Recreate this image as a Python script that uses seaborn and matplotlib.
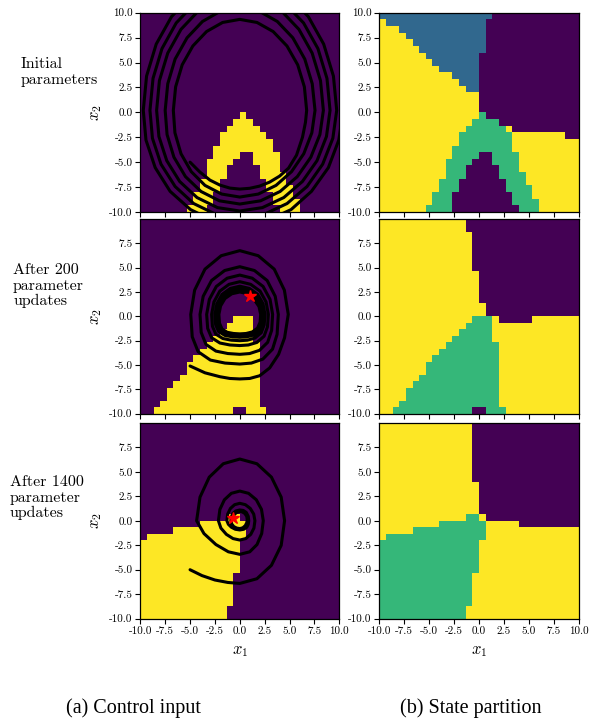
import re
import numpy as np
import matplotlib
matplotlib.use("Agg")
import matplotlib.pyplot as plt
import seaborn as sns
from matplotlib.colors import ListedColormap, BoundaryNorm

# ---------------- data: cell classes on a 30x30 grid (row 0 = top, x2=10) ----------------
# run-length encoded rows: P=purple, B=blue, G=green, Y=yellow
ctrl_initial = ["P30"] * 15 + [
    "P15Y1P14", "P14Y3P13", "P13Y5P12", "P12Y7P11", "P12Y8P10",
    "P11Y9P10", "P11Y4P2Y4P9", "P10Y4P3Y4P9", "P10Y3P5Y3P9", "P10Y3P5Y4P8",
    "P9Y3P7Y3P8", "P9Y3P7Y4P7", "P8Y3P9Y3P7", "P8Y3P9Y4P6", "P7Y3P11Y3P6"]
part_initial = [
    "B17P13", "Y1B15P14", "Y3B13P14", "Y4B12P14", "Y5B11P14",
    "Y6B10P14", "Y7B8P15", "Y8B7P15", "Y9B6P15", "Y11B4P15",
    "Y12B3P15", "Y13B2P15", "Y15P15", "Y15P15", "Y15P15",
    "Y15G1P14", "Y14G4P12", "Y13G6Y1P10", "Y12G8Y8P2", "Y12G8Y10",
    "Y11G9Y10", "Y11G4P2G4Y9", "Y10G4P3G4Y9", "Y10G3P5G3Y9", "Y10G3P5G4Y8",
    "Y9G3P7G3Y8", "Y9G3P7G4Y7", "Y8G3P9G3Y7", "Y8G3P9G4Y6", "Y7G4P10G3Y6"]
ctrl_200 = ["P30"] * 15 + [
    "P14Y3P13", "P13Y4P13", "P12Y5P13", "P11Y6P13", "P10Y8P12",
    "P9Y9P12", "P8Y10P12", "P7Y11P12", "P7Y11P12", "P6Y12P12",
    "P5Y13P12", "P4Y14P12", "P4Y14P12", "P3Y15P12", "P2Y12P2Y3P11"]
part_200 = ["Y13P17"] * 2 + ["Y14P16"] * 6 + ["Y15P15"] * 5 + ["Y16P14"] * 2 + [
    "Y14G3Y1P5Y7", "Y13G4Y13", "Y12G5Y13", "Y11G6Y13", "Y10G8Y12",
    "Y9G9Y12", "Y8G10Y12", "Y7G11Y12", "Y7G11Y12", "Y6G12Y12",
    "Y5G13Y12", "Y4G14Y12", "Y4G14Y12", "Y3G15Y12", "Y2G12P2G3Y11"]
ctrl_1400 = ["P30"] * 14 + [
    "P13Y2P15", "P9Y7P14", "P5Y11P14", "P1Y15P14"] + ["Y15P15"] * 5 + \
    ["Y14P16"] * 5 + ["Y13P17"] * 2
part_1400 = ["Y14P16"] * 9 + ["Y15P15"] * 5 + [
    "Y13G2Y1P14", "Y9G7Y5P9", "Y5G11Y14", "Y1G15Y14"] + ["G15Y15"] * 5 + \
    ["G14Y16"] * 5 + ["G13Y17"] * 2

# ---------------- data: closed-loop trajectories (x1, x2) ----------------
traj_initial_x = [
    -5.0, -4.0, -3.0, -2.0, -1.0, 0.0, 1.0, 2.0, 3.0, 4.0, 4.9, 5.7, 6.3, 6.6,
    6.72, 6.49, 5.82, 4.74, 3.35, 1.73, 0.0, -1.73, -3.34, -4.72, -5.79, -6.45, -6.68,
    -6.52, -5.91, -4.88, -3.5, -1.82, 0.0, 1.86, 3.64, 5.2, 6.43, 7.24, 7.56,
    7.28, 6.53, 5.33, 3.77, 1.95, 0.0, -1.95, -3.75, -5.3, -6.5, -7.24, -7.5,
    -7.31, -6.62, -5.46, -3.9, -2.04, 0.0, 2.08, 4.05, 5.78, 7.14, 8.05, 8.4,
    8.11, 7.27, 5.94, 4.2, 2.17, 0.0, -2.16, -4.18, -5.91, -7.24, -8.08, -8.36,
    -8.13, -7.34, -6.04, -4.3, -2.24, 0.0, 2.27, 4.42, 6.29, 7.76, 8.71, 9.07,
    8.76, 7.85, 6.41, 4.53, 2.34, 0.0, -2.34, -4.52, -6.39, -7.82, -8.72, -9.03,
    -8.78, -7.92, -6.5, -4.64, -2.41, 0.0, 2.45, 4.75, 6.76, 8.33, 9.35, 9.74,
    9.41, 8.43, 6.89, 4.87, 2.52, 0.0, -2.51, -4.85, -6.86, -8.4, -9.37, -9.7,
    -9.43, -8.5, -7.0, -4.95, -2.6, 0.0, 2.65, 5.15, 7.2, 8.9, 9.95, 10.4]
traj_initial_y = [
    -5.0, -6.0, -6.8, -7.3, -7.6, -7.7, -7.62, -7.4, -7.0, -6.4, -5.6, -4.3, -2.5, -1.0,
    0.2, 2.56, 4.77, 6.66, 8.11, 9.02, 9.33, 9.02, 8.11, 6.66, 4.77, 2.56, 0.2,
    -2.05, -4.15, -5.95, -7.33, -8.2, -8.5, -8.2, -7.33, -5.95, -4.15, -2.05, 0.2,
    2.87, 5.35, 7.48, 9.12, 10.15, 10.5, 10.15, 9.12, 7.48, 5.35, 2.87, 0.2,
    -2.23, -4.5, -6.45, -7.94, -8.88, -9.2, -8.88, -7.94, -6.45, -4.5, -2.23, 0.2,
    3.18, 5.95, 8.33, 10.16, 11.31, 11.7, 11.31, 10.16, 8.33, 5.95, 3.18, 0.2,
    -2.42, -4.85, -6.94, -8.55, -9.56, -9.9, -9.56, -8.55, -6.94, -4.85, -2.42, 0.2,
    3.41, 6.4, 8.97, 10.94, 12.18, 12.6, 12.18, 10.94, 8.97, 6.4, 3.41, 0.2,
    -2.6, -5.2, -7.44, -9.15, -10.23, -10.6, -10.23, -9.15, -7.44, -5.2, -2.6, 0.2,
    3.64, 6.85, 9.6, 11.72, 13.05, 13.5, 13.05, 11.72, 9.6, 6.85, 3.64, 0.2,
    -2.78, -5.55, -7.93, -9.76, -10.9, -11.3, -10.9, -9.76, -7.93, -5.55, -2.78, 0.2]

traj_200_x = [
    -5.0, -3.5, -2.0, -1.0, 0.0, 1.0, 2.0, 3.0, 3.9, 4.5, 4.87,
    4.48, 3.46, 1.85, 0.0, -1.87, -3.5, -4.54, -4.93,
    -4.78, -4.19, -2.96, -1.48, 0.0, 1.16, 2.32, 3.29, 3.75, 3.87,
    3.56, 2.75, 1.47, 0.0, -1.52, -2.84, -3.68, -4.0,
    -3.88, -3.4, -2.4, -1.2, 0.0, 0.99, 1.98, 2.8, 3.2, 3.3,
    3.04, 2.34, 1.25, 0.0, -1.27, -2.36, -3.06, -3.33,
    -3.23, -2.83, -2.0, -1.0, 0.0, 0.86, 1.72, 2.44, 2.78, 2.87,
    2.64, 2.04, 1.09, 0.0, -1.08, -2.01, -2.6, -2.83,
    -2.75, -2.41, -1.7, -0.85, 0.0, 0.76, 1.52, 2.15, 2.45, 2.53,
    2.33, 1.8, 0.96, 0.0, -0.95, -1.78, -2.3, -2.5,
    -2.43, -2.13, -1.5, -0.75, 0.0, 0.71, 1.42, 2.01, 2.3, 2.37,
    2.18, 1.68, 0.9, 0.0, -0.86, -1.6, -2.08, -2.26,
    -2.19, -1.92, -1.36, -0.68, 0.0, 0.66, 1.32, 1.87, 2.13, 2.2,
    2.02, 1.56, 0.84, 0.0, -0.8, -1.49, -1.93, -2.1,
    -2.04, -1.79, -1.26, -0.63, 0.0, 0.63, 1.26, 1.79, 2.04, 2.1,
    1.93, 1.5, 1.0]
traj_200_y = [
    -5.1, -5.8, -6.2, -6.38, -6.43, -6.38, -6.1, -5.3, -3.9, -2.2, 0.2,
    2.69, 4.85, 6.23, 6.75, 6.23, 4.85, 2.69, 0.2,
    -2.1, -3.63, -4.49, -4.8, -4.9, -4.8, -4.39, -3.37, -1.84, 0.2,
    2.06, 3.68, 4.71, 5.1, 4.71, 3.68, 2.06, 0.2,
    -1.65, -2.88, -3.57, -3.82, -3.9, -3.82, -3.49, -2.67, -1.44, 0.2,
    1.74, 3.07, 3.92, 4.24, 3.92, 3.07, 1.74, 0.2,
    -1.24, -2.2, -2.74, -2.94, -3.0, -2.94, -2.68, -2.04, -1.08, 0.2,
    1.48, 2.59, 3.29, 3.56, 3.29, 2.59, 1.48, 0.2,
    -1.02, -1.83, -2.28, -2.45, -2.5, -2.45, -2.23, -1.69, -0.88, 0.2,
    1.3, 2.26, 2.87, 3.1, 2.87, 2.26, 1.3, 0.2,
    -0.86, -1.56, -1.96, -2.1, -2.15, -2.1, -1.92, -1.45, -0.74, 0.2,
    1.19, 2.05, 2.59, 2.8, 2.59, 2.05, 1.19, 0.2,
    -0.75, -1.38, -1.73, -1.86, -1.9, -1.86, -1.69, -1.27, -0.64, 0.2,
    1.07, 1.83, 2.32, 2.5, 2.32, 1.83, 1.07, 0.2,
    -0.7, -1.3, -1.64, -1.76, -1.8, -1.76, -1.6, -1.2, -0.6, 0.2,
    1.0, 1.65, 2.05]

traj_1400_x = [-5.0, -3.8, -2.5, -1.2, 0.0, 1.72, 3.18, 4.16, 4.5,
               4.16, 3.18, 1.72, 0.0, -1.66, -3.07, -4.0, -4.34,
               -3.6, -2.4, -1.15, 0.0, 1.0, 1.73, 2.2, 2.36,
               2.18, 1.66, 0.88, 0.0, -0.85, -1.55, -2.0, -2.15,
               -1.9, -1.35, -0.68, 0.0, 0.6, 1.1, 1.42, 1.52,
               1.4, 1.05, 0.56, 0.0, -0.52, -0.94, -1.22, -1.3,
               -1.15, -0.85, -0.45, 0.0, 0.4, 0.7, 0.85, 0.9,
               0.85, 0.65, 0.35, 0.0, -0.4, -0.7, -0.85, -0.9,
               -0.8, -0.6, -0.3, 0.0, 0.3, 0.55, 0.7, 0.75,
               0.7, 0.5, 0.25, 0.0, -0.3, -0.55, -0.66]
traj_1400_y = [-5.0, -5.6, -6.05, -6.3, -6.4, -5.92, -4.55, -2.51, 0.0,
               2.41, 4.45, 5.82, 6.3, 5.82, 4.45, 2.41, 0.0,
               -1.31, -2.43, -3.17, -3.43, -3.17, -2.43, -1.31, 0.0,
               1.16, 2.14, 2.8, 3.03, 2.8, 2.14, 1.16, 0.0,
               -0.75, -1.39, -1.82, -1.97, -1.82, -1.39, -0.75, 0.0,
               0.68, 1.26, 1.64, 1.78, 1.64, 1.26, 0.68, 0.0,
               -0.36, -0.66, -0.87, -0.94, -0.87, -0.66, -0.36, 0.0,
               0.45, 0.85, 1.05, 1.1, 1.0, 0.75, 0.4, 0.0,
               -0.35, -0.6, -0.75, -0.8, -0.72, -0.5, -0.2, 0.1,
               0.45, 0.75, 0.9, 0.95, 0.85, 0.65, 0.3]

star_200 = (1.0, 2.05)
star_1400 = (-0.66, 0.3)

row_labels = ["Initial\nparameters", "After 200\nparameter\nupdates", "After 1400\nparameter\nupdates"]
tick_values = [-10.0, -7.5, -5.0, -2.5, 0.0, 2.5, 5.0, 7.5, 10.0]
tick_labels = ["-10.0", "-7.5", "-5.0", "-2.5", "0.0", "2.5", "5.0", "7.5", "10.0"]
captions = ["(a) Control input", "(b) State partition"]

# ---------------- helpers ----------------
CODES = {"P": 0, "B": 1, "G": 2, "Y": 3}


def decode(rows):
    grid = []
    for r in rows:
        vals = []
        for ch, n in re.findall(r"([PBGY])(\d+)", r):
            vals += [CODES[ch]] * int(n)
        assert len(vals) == 30, (r, len(vals))
        grid.append(vals)
    assert len(grid) == 30
    return np.array(grid, dtype=float)


def to_cell_x(v):
    return (np.asarray(v, dtype=float) + 10.0) * 1.5


def to_cell_y(v):
    return (10.0 - np.asarray(v, dtype=float)) * 1.5


plt.rcParams["mathtext.fontset"] = "cm"
cmap = ListedColormap(["#440154", "#31688e", "#35b779", "#fde725"])
norm = BoundaryNorm([-0.5, 0.5, 1.5, 2.5, 3.5], 4)

W, H = 590, 719
fig = plt.figure(figsize=(W / 100, H / 100), dpi=100)

col_x = [140.3, 379.3]
col_w = [199.0, 199.4]
rows_px = [(12.7, 212.0), (219.0, 413.7), (422.8, 618.7)]

grids = [[ctrl_initial, part_initial], [ctrl_200, part_200], [ctrl_1400, part_1400]]
trajs = [(traj_initial_x, traj_initial_y, None),
         (traj_200_x, traj_200_y, star_200),
         (traj_1400_x, traj_1400_y, star_1400)]

for ri in range(3):
    top, bot = rows_px[ri]
    for ci in range(2):
        ax = fig.add_axes([col_x[ci] / W, 1 - bot / H, col_w[ci] / W, (bot - top) / H])
        sns.heatmap(decode(grids[ri][ci]), ax=ax, cmap=cmap, norm=norm,
                    cbar=False, xticklabels=False, yticklabels=False)
        for s in ax.spines.values():
            s.set_visible(True)
            s.set_linewidth(0.9)
            s.set_color("black")
        ax.set_xlim(0, 30)
        ax.set_ylim(30, 0)
        ax.set_xticks(to_cell_x(tick_values))
        if ri == 2:
            ax.set_xticklabels(tick_labels, fontfamily="cmr10", fontsize=8, rotation=0)
            ax.set_xlabel("$x_1$", fontsize=12, labelpad=4)
        else:
            ax.set_xticklabels([])
        yv = tick_values if ri == 0 else tick_values[:-1]
        yl = tick_labels if ri == 0 else tick_labels[:-1]
        ax.set_yticks(to_cell_y(yv))
        ax.set_yticklabels(yl, fontfamily="cmr10", fontsize=8, rotation=0)
        ax.tick_params(direction="out", length=3.5, width=0.8, pad=2,
                       bottom=True, left=True, top=False, right=False)
        if ci == 0:
            ax.set_ylabel("$x_2$", fontsize=12, labelpad=4)
            tx, ty, star = trajs[ri]
            ax.plot(to_cell_x(tx), to_cell_y(ty), color="black", lw=2.2,
                    solid_joinstyle="round", solid_capstyle="round")
            if star is not None:
                ax.plot(to_cell_x([star[0]]), to_cell_y([star[1]]), marker="*",
                        color="red", markersize=9, linestyle="none")
        else:
            ax.set_ylabel("")

label_pos = [(20.5, 72), (13.0, 286), (9.5, 498)]
for (lx, ly), txt in zip(label_pos, row_labels):
    fig.text(lx / W, 1 - ly / H, txt, ha="left", va="center", fontsize=11.5,
             fontfamily="cmr10", linespacing=1.15, multialignment="left")

fig.text(133.5 / W, 1 - 708 / H, captions[0], ha="center", va="center",
         fontsize=14.5, fontfamily="Liberation Serif")
fig.text(470.5 / W, 1 - 708 / H, captions[1], ha="center", va="center",
         fontsize=14.5, fontfamily="Liberation Serif")

fig.savefig("out.png", dpi=100)
